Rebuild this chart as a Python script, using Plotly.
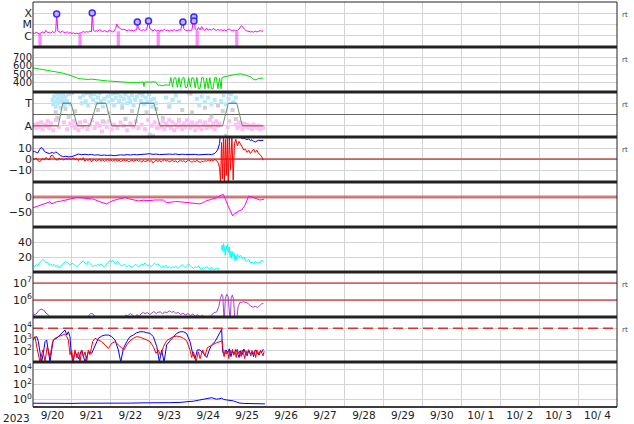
import pandas as pd
import plotly.graph_objects as go
from plotly.subplots import make_subplots

T0 = pd.Timestamp("2023-09-20 00:00")
T_END = pd.Timestamp("2023-10-05 00:00")

# ---------------- data (hours since 2023-09-20 00UT, value) ----------------
XRAY = [(0,1.8e-6),(1,1.6e-6),(2,2.0e-6),(3,1.7e-6),(4,1.5e-6),(6,2.2e-6),(7,1.8e-6),(8,3.0e-6),(9,1.9e-6),
        (10,2.1e-6),(11,1.7e-6),(12,2.4e-6),(13,1.9e-6),(14,2.5e-6),(14.6,8.5e-5),(15.3,3.0e-6),(16,2.2e-6),
        (17,2.0e-6),(18,2.7e-6),(19,2.0e-6),(20,1.8e-6),(21,2.3e-6),(22,1.7e-6),(23,1.9e-6),(24,1.6e-6),
        (25,1.8e-6),(26,1.5e-6),(27,1.7e-6),(28,1.6e-6),(30,1.9e-6),(31,2.4e-6),(32,2.0e-6),(33,2.3e-6),
        (34,2.1e-6),(35,2.6e-6),(36,2.2e-6),(36.5,1.05e-4),(37.2,3.2e-6),(38,2.4e-6),(39,2.8e-6),(40,2.5e-6),
        (41,3.5e-6),(42,2.6e-6),(43,2.3e-6),(44,2.9e-6),(45,2.4e-6),(46,2.1e-6),(47,3.3e-6),(48,2.5e-6),
        (49,2.2e-6),(50,2.7e-6),(51,4.5e-6),(51.6,1.1e-5),(52.5,6.0e-6),(54,4.2e-6),(55,3.5e-6),(56,3.8e-6),
        (57,3.0e-6),(58,2.8e-6),(59,3.4e-6),(60,2.9e-6),(61,3.1e-6),(62,2.7e-6),(63,3.2e-6),(64,3.6e-6),
        (64.3,1.7e-5),(65,4.5e-6),(66,3.3e-6),(67,2.9e-6),(68,3.5e-6),(69,3.0e-6),(70,3.4e-6),(71.2,2.0e-5),
        (72,4.8e-6),(73,3.2e-6),(74,2.8e-6),(75,3.6e-6),(76,2.7e-6),(77,3.0e-6),(78,2.6e-6),(79,3.2e-6),
        (80,2.9e-6),(81,3.9e-6),(82,2.8e-6),(83,3.1e-6),(84,2.6e-6),(85,3.3e-6),(86,2.9e-6),(87,3.5e-6),
        (88,2.7e-6),(89,3.0e-6),(90,3.4e-6),(91,3.1e-6),(92.4,1.7e-5),(93,4.2e-6),(94,3.0e-6),(95,2.7e-6),
        (96,3.2e-6),(97,2.9e-6),(98,3.4e-6),(99.2,4.7e-5),(100,4.0e-6),(101,3.0e-6),(102,5.5e-6),(103,3.3e-6),
        (104,6.5e-6),(105,3.5e-6),(106,3.0e-6),(107,4.8e-6),(108,3.2e-6),(109,3.8e-6),(110,3.1e-6),
        (111,4.4e-6),(112,3.4e-6),(113,3.0e-6),(114,3.6e-6),(115,3.1e-6),(116,3.4e-6),(117,2.9e-6),
        (118,3.3e-6),(119,2.8e-6),(120,3.5e-6),(121,4.0e-6),(122,3.1e-6),(123,2.9e-6),(124,3.2e-6),
        (125,2.7e-6),(126,3.0e-6),(127,3.8e-6),(128.5,8.0e-6),(129.5,5.0e-6),(130.5,3.6e-6),(131.5,2.8e-6),
        (133,2.4e-6),(134,2.2e-6),(135,2.3e-6),(136,2.1e-6),(137,2.6e-6),(138,2.2e-6),(139,2.4e-6),
        (140,2.9e-6),(141,2.5e-6),(142,2.7e-6)]
FLARES = [(14.6,8.5e-5),(36.5,1.05e-4),(64.3,1.7e-5),(71.2,2.0e-5),(92.4,1.7e-5),(99.2,4.7e-5),(99.2,2.0e-5)]
XRAY_GAPS = [(3.3,5.3,1.5e-6),(28.0,30.0,1.5e-6),(51.6,53.6,2.5e-6),(76.2,78.2,2.3e-6),
             (100.2,102.2,2.8e-6),(124.6,126.6,2.3e-6)]

WIND = [(0,575),(2,568),(4,570),(6,560),(8,555),(10,548),(12,540),(14,530),(16,520),(18,515),(20,505),
        (22,495),(24,480),(26,465),(28,450),(30,445),(32,440),(34,438),(36,442),(38,436),(40,430),(42,432),
        (44,425),(46,420),(48,418),(50,415),(52,410),(54,412),(56,406),(58,405),(60,402),(62,404),(64,400),
        (66,405),(68,408),(68.4,355),(68.8,405),(70,410),(72,406),(74,412),(76,404),(77,370),(78,372),
        (80,365),(82,375),(84,368),(85,462),(86,350),(87,458),(88,455),(89,345),(90,460),(91,348),(92,452),
        (93,465),(94,340),(95,345),(96,458),(97,350),(98,460),(99,455),(100,338),(101,462),(102,330),
        (103,335),(104,458),(105,460),(106,328),(107,455),(108,332),(109,460),(110,330),(111,325),(112,458),
        (113,462),(114,330),(115,455),(116,328),(116.5,462),(117,465),(120,480),(123,490),(126,500),
        (128,505),(130,495),(132,480),(134,470),(136,440),(137.5,432),(139,450),(141,458),(142,455)]

SECTOR = [(0,-1),(15.6,-1),(18.3,1),(23.4,1),(27.3,-1),(35.1,-1),(39.3,1),(45.0,1),(48.5,-1),(62.9,-1),
          (66.0,1),(74.6,1),(78.3,-1),(116.9,-1),(120.4,1),(125.6,1),(129.0,-1),(142,-1)]
IMF_TOWARD = [(12,1.3),(12.5,0.9),(13,1.6),(13.5,1.1),(14,0.7),(14.5,1.8),(15,1.4),(15.5,1.0),(16,1.7),
              (16.5,1.2),(17,0.6),(17.5,1.5),(18,1.9),(18.5,1.1),(19,1.4),(19.5,0.8),(20,1.6),(21,1.2),
              (22,1.8),(23,0.9),(29,1.5),(30,1.0),(31,1.7),(32.5,1.2),(34,0.8),(35.5,1.6),(37,1.3),(38,1.8),
              (39,1.0),(40,1.5),(41,1.9),(42,1.2),(43,0.7),(44,1.4),(46,1.6),(47,1.1),(48,1.8),(49,1.3),
              (50,0.8),(51,1.5),(52,1.9),(53,1.2),(54,1.6),(55,0.9),(56,1.4),(57,1.8),(58,1.0),(59,1.5),
              (60,1.2),(61,1.7),(62,0.8),(63,1.3),(64,1.6),(66.5,1.2),(67.5,1.7),(68.5,0.9),(69.5,1.5),
              (70.5,1.1),(71.5,1.8),(72.5,1.3),(73.5,0.7),(74.5,1.4),(76,1.0),(82,1.5),(84,0.9),(86,1.3),
              (88,1.7),(90,1.1),(101,1.4),(102.5,0.8),(104,1.6),(106,1.1),(108,1.5),(110,0.9),(112,1.3),
              (116,1.2),(117.5,1.7),(119,0.9),(120.5,1.4),(122,1.8),(123.5,1.1),(125,1.5)]
IMF_AWAY = [(0,-1.0),(1,-0.9),(2,-1.2),(3,-0.8),(4,-1.1),(5,-0.7),(6,-1.3),(7,-0.9),(8,-1.0),(9,-0.6),
            (10,-1.2),(11,-0.8),(12.5,-1.4),(14,-0.5),(16,-1.1),(19,-0.7),(21,-1.3),(23,-0.8),(24,-1.0),
            (25,-0.6),(26,-1.2),(27,-0.9),(28,-1.4),(29,-0.7),(30.5,-1.1),(32,-0.6),(33.5,-1.3),(35,-0.9),
            (36.5,-0.5),(38,-1.2),(39.5,-0.8),(41,-1.0),(42.5,-1.5),(44,-0.7),(45.5,-1.1),(47,-0.6),
            (48.5,-1.3),(50,-0.9),(52,-1.2),(54,-0.7),(56,-1.0),(58,-1.4),(60,-0.8),(62,-1.1),(63.5,-0.6),
            (65,-1.2),(67,-0.9),(69,-1.3),(71,-0.5),(73,-1.0),(75,-0.7),(76.5,-1.2),(78,-0.9),(79,-1.1),
            (80,-0.6),(81,-1.3),(82,-0.8),(83,-1.0),(84,-0.5),(85,-1.2),(86,-0.7),(87,-1.4),(88,-0.9),
            (89,-1.1),(90,-0.6),(91,-1.0),(92,-1.3),(93,-0.8),(94,-1.1),(95,-0.5),(96,-0.9),(97,-1.2),
            (98,-0.7),(99,-1.0),(100,-1.4),(101,-0.8),(102,-1.1),(103,-0.6),(104,-1.3),(105,-0.9),
            (106,-0.7),(107,-1.2),(108,-1.0),(109,-0.5),(110,-1.1),(111,-0.8),(112,-1.3),(113,-0.6),
            (114,-1.0),(115,-0.8),(120,-1.1),(121,-0.6),(125,-0.9),(126,-1.2),(127,-0.7),(128,-1.0),
            (129,-1.3),(130,-0.8),(131,-1.1),(132,-0.9),(133,-1.2),(134,-1.0),(135,-1.3),(136,-0.9),
            (137,-1.1),(138,-1.2),(139,-1.0),(140,-1.3),(141,-1.1),(142,-1.2)]
IMF_MIXED = [(14,0.2),(15,-0.3),(16.5,1.9),(17.5,1.95),(18.5,1.85),(20,0.5),(22,-0.2),(24,1.9),(26,0.3),
             (33,1.9),(34,1.95),(36,1.85),(40,0.4),(43,-0.6),(47,0.1),(50,1.9),(52,1.95),(55,0.6),(57,-0.4),
             (61,0.3),(66,1.9),(67,1.95),(70,0.2),(72,-1.8),(74,-1.9),(76,0.5),(80,-0.3),(84,0.7),(90,-0.5),
             (92,0.4),(96,1.9),(97,1.85),(98,0.2),(106,0.6),(110,-0.2),(114,0.8),(117,0.3),(119,-1.9),
             (121,1.9),(123,0.4),(125,-0.4)]

BT = [(0,6.5),(1,7.0),(2,6.0),(3,5.5),(4,8.5),(5,10.5),(6,9.5),(7,7.0),(8,6.0),(9,5.5),(10,5.0),(11,5.5),
      (12,6.0),(13,5.0),(14,6.5),(15,5.5),(16,4.0),(17,3.0),(18,2.5),(19,2.0),(20,2.5),(22,2.0),(24,2.2),
      (26,3.0),(28,4.5),(30,4.0),(32,4.3),(34,3.8),(36,4.2),(38,3.5),(40,3.8),(42,3.3),(44,3.6),(46,3.2),
      (48,3.5),(50,3.0),(52,3.4),(54,3.8),(56,3.5),(58,4.0),(60,3.6),(62,4.1),(64,3.8),(66,4.2),(68,4.0),
      (70,4.4),(72,4.8),(74,4.2),(76,4.5),(78,4.0),(80,4.3),(82,4.1),(84,4.5),(86,4.2),(88,4.6),(90,4.0),
      (92,4.4),(94,4.1),(96,4.3),(98,4.0),(100,4.2),(102,3.8),(104,4.1),(106,3.9),(108,4.3),(110,4.0),
      (112,5.0),(113,6.5),(114,9.0),(115,14.0),(115.5,22),(117,24),(119,25),(121,26),(123,25),(125,24),
      (127,22),(128,19.5),(129,18.5),(130,19.0),(131,18.0),(132,17.5),(133,18.2),(134,16.8),(135,17.5),
      (136,16.0),(137,15.5),(138,16.5),(139,17.0),(140,16.8),(141,17.2),(142,17.0)]
BZ = [(0,0.5),(1,-0.5),(2,1.0),(3,-1.5),(4,-2.5),(5,-1.0),(6,0.5),(7,-0.8),(8,1.5),(9,0.2),(10,-1.0),
      (11,3.0),(12,3.5),(13,1.0),(14,0.0),(15,-1.2),(16,0.8),(17,-0.5),(18,0.3),(19,-1.0),(20,0.5),
      (21,-0.3),(22,0.8),(23,-0.5),(24,0.2),(25,1.0),(26,-0.8),(27,0.5),(28,-1.5),(29,0.3),(30,-1.0),
      (31,1.2),(32,-2.0),(33,-0.5),(34,-1.5),(35,0.3),(36,-2.5),(37,-1.0),(38,-0.5),(39,-2.0),(40,-1.2),
      (41,-0.3),(42,-1.8),(43,-0.8),(44,-2.2),(45,-1.0),(46,-0.5),(47,-1.7),(48,-0.8),(49,-2.0),(50,-1.3),
      (51,-0.6),(52,-1.9),(53,-1.0),(54,-2.4),(55,-1.2),(56,-0.7),(57,-1.8),(58,-1.1),(59,-2.6),(60,-1.4),
      (61,-0.9),(62,-2.0),(63,-1.5),(64,-0.8),(65,-2.2),(66,-1.3),(67,-3.0),(68,-1.0),(69,-2.5),(70,-1.6),
      (71,-0.9),(72,-2.1),(73,-1.4),(74,-3.5),(75,-1.8),(76,-1.2),(77,-2.3),(78,-1.0),(79,-2.8),(80,-1.5),
      (81,-0.7),(82,-2.0),(83,-1.3),(84,-2.6),(85,-1.9),(86,-1.1),(87,-2.4),(88,-1.6),(89,-3.2),(90,-1.8),
      (91,-1.0),(92,-2.2),(93,-1.5),(94,-2.9),(95,-1.7),(96,-0.9),(97,-2.1),(98,-3.0),(99,-1.6),(100,-2.5),
      (101,-1.2),(102,-2.0),(103,-3.2),(104,-1.8),(105,-2.6),(106,-1.4),(107,-2.2),(108,-1.0),(109,-1.8),
      (110,-0.8),(111,-1.5),(112,-0.5),(113,-1.2),(114,-3.0),(115,-8.0),(115.6,-21),(116.2,15),
      (116.8,-18),(117.4,22),(118,-21),(118.6,18),(119.2,-15),(119.8,20),(120.4,-21),(121,21),(121.8,-10),
      (122.6,21),(123.4,-19),(124.2,14),(125,18),(126,12),(127,16),(128,13),(129,10),(130,8),(131,9),
      (132,6),(133,8),(134,5),(135,7),(136,9),(137,6),(138,8),(139,5),(140,4),(141,2),(142,-1)]

DST = [(0,-36),(3,-30),(6.3,-23),(8,-20),(10.5,-16),(11.5,-23),(13,-19),(14.6,-16),(17,-14),(20.8,-10),
       (24,-6),(26.9,-2),(30,-3),(33.1,-4),(37.2,-7),(41.3,-16),(43,-19),(45.4,-23),(47,-18),(49.3,-12),
       (52,-8),(56.7,-2),(59,-6),(61.8,-10),(65,-13),(68,-11),(72.1,-12),(75,-10),(78,-9),(80.3,-10),
       (82.4,-19),(85,-17),(88,-15),(90.6,-16),(94,-18),(98.8,-19),(102.9,-23),(105,-18),(107.1,-12),
       (110,-8),(113,-3),(115.3,4),(117.3,9),(118.5,-5),(119.4,-21),(120.5,-33),(121.4,-43),(122.5,-55),
       (123.1,-63),(124,-57),(125.6,-50),(127,-46),(128.7,-43),(130.7,-27),(132,-10),(132.7,1),(134,2),
       (135.8,-2),(137.5,-6),(139.9,-10),(141,-9),(142.4,-7)]

PANEL6 = [(0,9),(1,7),(2,10),(3,8),(4,12),(5,14),(6,17),(7,15),(8,12),(9,13),(10,9),(11,11),(12,8),(13,10),
          (14,7),(15,9),(16,6),(17,8),(18,10),(19,12),(20,14),(21,13),(22,11),(23,9),(24,12),(25,10),(26,8),
          (27,7),(28,9),(29,11),(30,13),(31,15),(32,12),(33,10),(34,14),(35,12),(36,9),(37,7),(38,9),(39,8),
          (40,10),(41,9),(42,11),(43,8),(44,7),(45,9),(46,12),(47,15),(48,13),(49,16),(50,12),(51,10),
          (52,14),(53,11),(54,9),(55,8),(56,10),(57,9),(58,7),(59,9),(60,8),(61,6),(62,8),(63,10),(64,9),
          (65,7),(66,8),(67,11),(68,9),(69,12),(70,10),(71,8),(72,9),(73,7),(74,10),(75,12),(76,9),(77,11),
          (78,8),(79,6),(80,8),(81,7),(82,9),(83,6),(84,7),(85,5),(86,7),(87,6),(88,8),(89,5),(90,6),(91,8),
          (92,10),(93,7),(94,6),(95,9),(96,11),(97,8),(98,6),(99,5),(100,7),(101,6),(102,8),(103,5),(104,4),
          (105,6),(106,5),(107,7),(108,5),(109,4),(110,6),(111,5),(112,3),(113,5),(114,4),(115,5),
          (115.6,None),(116.2,30),(116.6,36),(117,28),(117.5,38),(118,32),(118.5,22),(119,35),(119.5,30),
          (120,37),(120.5,26),(121,33),(121.5,20),(122,28),(122.5,18),(123,27),(123.5,21),(124,25),
          (124.5,15),(125,22),(125.5,17),(126,24),(127,20),(128,22),(129,18),(130,20),(131,15),(132,14),
          (133,17),(134,12),(135,13),(136,11),(137,14),(138,12),(139,13),(140,12),(141,16),(142,13)]

PANEL7 = [(0,1.3e5),(2,1.5e5),(3.5,2.4e5),(5,2.9e5),(6.5,2.6e5),(8,1.7e5),(10,1.2e5),(11,9e4),(13,8e4),
          (20,7e4),(30,8e4),(34,1.1e5),(35.5,1.6e5),(37,1.5e5),(38.5,1.0e5),(40,8e4),(50,8e4),(56,9e4),
          (57,1.3e5),(58.5,1.2e5),(60,1.6e5),(61.5,1.3e5),(63,1.0e5),(64,1.4e5),(65.5,1.1e5),(66.5,1.5e5),
          (68,1.9e5),(69,1.6e5),(70.5,1.8e5),(72,1.4e5),(73,1.7e5),(74.5,2.1e5),(76,1.6e5),(77,1.9e5),
          (78.5,2.0e5),(80,1.5e5),(81,2.0e5),(82.5,1.8e5),(84,2.3e5),(85.5,1.9e5),(87,2.1e5),(88,1.6e5),
          (89.5,1.9e5),(91,1.4e5),(92.5,1.7e5),(94,1.3e5),(95.5,1.6e5),(97,1.2e5),(98.5,1.5e5),(100,1.1e5),
          (101.5,1.4e5),(103,1.0e5),(104.5,1.3e5),(106,9e4),(108,8e4),(110,1.3e5),(111.5,1.8e5),
          (113.3,2.0e5),(114.5,4e5),(115.5,1.2e6),(116.3,2.2e6),(117,1.8e6),(117.8,5e4),(118.6,1.2e6),
          (119.4,2.2e6),(120.3,1.6e6),(121.5,5e4),(122.2,1.4e6),(122.9,2.0e6),(123.7,1.0e6),(124.5,5e4),
          (125.5,5e4),(126.4,4e5),(127.6,7.5e5),(128.5,7e5),(129.5,8e5),(131,7e5),(132.5,6.5e5),(134,4.5e5),
          (135.6,3.8e5),(137,4.2e5),(138.5,3.6e5),(139.9,4.8e5),(141,6.0e5),(142,6.2e5)]

FLUX_BLUE = [(0.2,1300),(2.3,1800),(3.3,640),(4.3,117),(5.3,10),(6.4,60),(7.4,640),(8.4,910),(9.5,117),
             (10.5,10),(11.5,117),(12.5,910),(14.6,1300),(16.6,2500),(18.7,6000),(19.7,6900),(20.8,2500),
             (21.8,4900),(22.8,1800),(23.4,117),(24.5,10),(25.9,80),(28.0,20),(30.0,117),(32.1,10),(34.1,80),
             (36.2,60),(38.2,330),(40.3,1300),(42.3,2000),(44.4,2500),(46.5,2500),(48.5,1800),(50.6,910),
             (52.6,117),(54.1,10),(55.7,160),(57.8,640),(59.8,1800),(61.9,2500),(63.9,4000),(66.0,4900),
             (68.0,4900),(70.1,4000),(72.1,3500),(74.2,1800),(76.3,230),(77.9,10),(79.3,117),(80.8,10),
             (82.4,330),(84.5,780),(86.5,1800),(88.6,3500),(90.6,4900),(92.7,4900),(94.7,3500),(96.8,640),
             (98.4,60),(99.9,20),(101.3,117),(103.0,117),(105.0,60),(107.1,25),(108.7,117),(110.1,330),
             (112.2,640),(114.3,2500),(116.3,8000),(116.9,80),(118,40),(119,117),(120,60),(121,150),(122,30),
             (123,90),(124,50),(125,130),(126,70),(127,25),(128,100),(129,45),(130,140),(131,60),(132,35),
             (133,110),(134,55),(135,80),(136,30),(137,120),(138,65),(139,45),(140,90),(141,70),(142,140)]
FLUX_RED = [(0.2,910),(1.2,1800),(2.3,230),(3.3,60),(4.3,10),(6.0,117),(7.4,12),(8.8,230),(10.5,30),
            (12.1,640),(13.6,1300),(15.6,1800),(17.7,2500),(19.7,3000),(20.8,1800),(21.8,910),(22.8,45),
            (23.8,117),(24.9,10),(25.9,120),(26.9,25),(28.0,80),(29.0,10),(30.0,117),(31.0,30),(32.1,80),
            (33.1,10),(34.1,117),(35.1,45),(36.8,640),(38.2,1300),(40.3,910),(42.3,640),(44.4,330),
            (46.5,160),(48.5,460),(50.6,640),(52.6,330),(54.7,190),(56.1,117),(57.8,330),(59.8,780),
            (61.9,1300),(63.9,1800),(66.0,1600),(68.0,1300),(70.1,910),(72.1,640),(74.2,230),(75.8,60),
            (77.3,117),(78.7,35),(80.4,230),(82.4,780),(84.5,1300),(86.5,1800),(88.6,2000),(90.6,1800),
            (92.7,1300),(94.7,780),(96.8,117),(97.8,25),(98.9,80),(100.5,10),(101.9,80),(103.0,20),
            (104.6,117),(106.0,35),(107.5,190),(109.1,260),(111.2,400),(113.2,530),(115.3,640),(116.5,780),
            (117.3,80),(117.8,30),(118.5,120),(119.3,50),(120,90),(120.7,20),(121.5,110),(122.2,60),
            (123,140),(123.7,40),(124.5,85),(125.3,25),(126,130),(126.8,55),(127.5,95),(128.3,30),(129,115),
            (129.8,60),(130.5,20),(131.3,100),(132,45),(132.8,125),(133.5,70),(134.3,35),(135,105),
            (135.8,50),(136.5,90),(137.3,25),(138,120),(138.8,60),(139.5,40),(140.3,110),(141,70),
            (141.8,35),(142.5,90)]

PANEL9 = [(0,0.32),(6,0.30),(12,0.33),(18,0.31),(24,0.30),(30,0.32),(36,0.31),(42,0.33),(48,0.32),
          (54,0.34),(60,0.33),(66,0.35),(72,0.34),(78,0.36),(84,0.38),(90,0.40),(95,0.45),(99,0.6),
          (102,0.8),(105,1.1),(107,1.4),(109,1.6),(110.2,1.75),(111.5,1.4),(113,1.1),(114.5,1.2),
          (116.3,1.5),(117.5,1.0),(119,0.9),(121,0.8),(123.5,0.65),(125.5,0.45),(127.6,0.33),(130,0.30),
          (134,0.28),(138,0.27),(143,0.26)]

# reference levels
SECTOR_ZERO = 0
BZ_ZERO = 0
DST_ZERO = 0
P7_LEVELS = [1e6, 1e7]
P8_LEVEL = 1e4

XRAY_TICKS = ([1e-6, 1e-5, 1e-4], ["C", "M", "X"])
WIND_TICKS = [400, 500, 600, 700]
SECTOR_TICKS = ([-1, 1], ["A", "T"])
BZ_TICKS = ([-10, 0, 10], ["\u221210", "0", "10"])
DST_TICKS = ([-50, 0], ["\u221250", "0"])
P6_TICKS = [20, 40]
P7_TICKS = ([1e6, 1e7], ["10<sup>6</sup>", "10<sup>7</sup>"])
P8_TICKS = ([1e2, 1e3, 1e4], ["10<sup>2</sup>", "10<sup>3</sup>", "10<sup>4</sup>"])
P9_TICKS = ([1, 1e2, 1e4], ["10<sup>0</sup>", "10<sup>2</sup>", "10<sup>4</sup>"])


def ts(h):
    return (T0 + pd.Timedelta(hours=h)).strftime("%Y-%m-%d %H:%M:%S")


def xy(pairs):
    return [ts(p[0]) for p in pairs], [p[1] for p in pairs]


FONT = "DejaVu Sans"
fig = make_subplots(rows=9, cols=1, shared_xaxes=True, vertical_spacing=0)

def line(pairs, color, row, width=1, **kw):
    x, y = xy(pairs)
    fig.add_trace(go.Scatter(x=x, y=y, mode="lines", line=dict(color=color, width=width),
                             showlegend=False, hoverinfo="skip", **kw), row=row, col=1)

def hline(level, color, row, width=1, dash=None):
    fig.add_trace(go.Scatter(x=[T0, T_END], y=[level, level], mode="lines",
                             line=dict(color=color, width=width, dash=dash),
                             showlegend=False, hoverinfo="skip"), row=row, col=1)

# panel 1
gx, gy = [], []
for s, e, top in XRAY_GAPS:
    gx += [ts(s), ts(s), ts(e), ts(e), None]
    gy += [1e-8, top, top, 1e-8, None]
fig.add_trace(go.Scatter(x=gx, y=gy, mode="lines", fill="toself", fillcolor="rgba(255,60,255,0.6)",
                         line=dict(width=0, color="rgba(255,60,255,0.6)"), showlegend=False,
                         hoverinfo="skip"), row=1, col=1)
line(XRAY, "#ff00ff", 1)
fx, fy = xy(FLARES)
fig.add_trace(go.Scatter(x=fx, y=fy, mode="markers",
                         marker=dict(symbol="circle", size=6, color="#d8a8ff",
                                     line=dict(color="#3030ff", width=1.5)),
                         showlegend=False, hoverinfo="skip"), row=1, col=1)

# panel 2
line(WIND, "#00e000", 2)

# panel 3
hline(SECTOR_ZERO, "#666666", 3)
for pts, col in [(IMF_MIXED, "#d0d0d0"), (IMF_AWAY, "#ffbff4"), (IMF_TOWARD, "#b5e8fc")]:
    x, y = xy(pts)
    fig.add_trace(go.Scatter(x=x, y=y, mode="markers",
                             marker=dict(symbol="square", size=4, color=col, line=dict(width=0)),
                             showlegend=False, hoverinfo="skip"), row=3, col=1)
line(SECTOR, "#6a8f6a", 3)
for val, col in [(1, "#5a78ff"), (-1, "#e05050")]:
    sx, sy = [], []
    for a, b in zip(SECTOR[:-1], SECTOR[1:]):
        if a[1] == val and b[1] == val:
            sx += [ts(a[0]), ts(b[0]), None]
            sy += [a[1], b[1], None]
    fig.add_trace(go.Scatter(x=sx, y=sy, mode="lines", line=dict(color=col, width=1),
                             showlegend=False, hoverinfo="skip"), row=3, col=1)

# panel 4
hline(BZ_ZERO, "#a00000", 4, width=1.2)
line(BT, "#0000ff", 4)
line(BZ, "#ff0000", 4)

# panel 5
hline(DST_ZERO, "rgba(190,60,60,0.65)", 5, width=3)
line(DST, "#ff00ff", 5)

# panel 6
line(PANEL6, "#00ffff", 6, connectgaps=False)

# panel 7
for lv in P7_LEVELS:
    hline(lv, "#cc0000", 7)
line(PANEL7, "#a63fd8", 7)

# panel 8
hline(P8_LEVEL, "#e03030", 8, width=1.5, dash="10px,5px")
line(FLUX_BLUE, "#0000ff", 8)
line(FLUX_RED, "#ff0000", 8)

# panel 9
line(PANEL9, "#0000ff", 9)

GRID = "#d4d4d4"
fig.update_xaxes(type="date", range=[T0, T_END], dtick=86400000, tick0="2023-09-20",
                 showgrid=True, gridcolor=GRID, gridwidth=1, zeroline=False, showline=False,
                 ticks="", showticklabels=False)
fig.update_xaxes(showticklabels=True, ticklabelmode="period", tickformat="%-m/%e",
                 tickfont=dict(family=FONT, size=10.5, color="#222"), automargin=False, row=9, col=1)
fig.update_yaxes(showgrid=True, gridcolor=GRID, gridwidth=1, zeroline=False, showline=False, ticks="",
                 tickfont=dict(family=FONT, size=11, color="#222"), automargin=False)

fig.update_yaxes(type="log", range=[-7, -3], tickvals=XRAY_TICKS[0], ticktext=XRAY_TICKS[1], row=1, col=1)
fig.update_yaxes(range=[290, 822], tickvals=WIND_TICKS, tickfont=dict(size=10), row=2, col=1)
fig.update_yaxes(range=[-2, 2], tickvals=SECTOR_TICKS[0], ticktext=SECTOR_TICKS[1], row=3, col=1)
fig.update_yaxes(range=[-20.9, 20], tickvals=BZ_TICKS[0], ticktext=BZ_TICKS[1], row=4, col=1)
fig.update_yaxes(range=[-100, 50], tickvals=DST_TICKS[0], ticktext=DST_TICKS[1], row=5, col=1)
fig.update_yaxes(range=[0, 60], tickvals=P6_TICKS, row=6, col=1)
fig.update_yaxes(type="log", range=[5, 7.65], tickvals=P7_TICKS[0], ticktext=P7_TICKS[1], row=7, col=1)
fig.update_yaxes(type="log", range=[1, 5], tickvals=P8_TICKS[0], ticktext=P8_TICKS[1], row=8, col=1)
fig.update_yaxes(type="log", range=[-1, 5], tickvals=P9_TICKS[0], ticktext=P9_TICKS[1], row=9, col=1)

shapes = [dict(type="rect", xref="paper", yref="paper", x0=0, x1=1, y0=0, y1=1,
               line=dict(color="#222", width=1))]
for k in range(1, 9):
    shapes.append(dict(type="line", xref="paper", yref="paper", x0=0, x1=1, y0=k / 9, y1=k / 9,
                       line=dict(color="#222", width=3)))
shapes.append(dict(type="line", xref="paper", yref="paper", x0=0, x1=1, y0=0, y1=0,
                   line=dict(color="#222", width=1.5)))

annotations = [dict(text="2023", xref="paper", yref="paper", x=0, y=0, xanchor="right", yanchor="top",
                    xshift=-1, yshift=-3, showarrow=False, font=dict(family=FONT, size=10.5, color="#222"))]
for r in [1, 2, 3, 4, 7, 8]:
    annotations.append(dict(text="rt", xref="paper", yref="paper", x=1, y=(10 - r) / 9, xanchor="left",
                            yanchor="top", xshift=3, yshift=-7, showarrow=False,
                            font=dict(family=FONT, size=7, color="#444")))

fig.update_layout(width=634, height=424, margin=dict(l=33, r=17, t=2, b=17),
                  paper_bgcolor="white", plot_bgcolor="white", showlegend=False,
                  shapes=shapes, annotations=annotations, font=dict(family=FONT))
fig.write_html("out.html", config={"displayModeBar": False, "staticPlot": True},
               post_script="document.body.style.margin='0px';document.body.style.padding='0px';")
